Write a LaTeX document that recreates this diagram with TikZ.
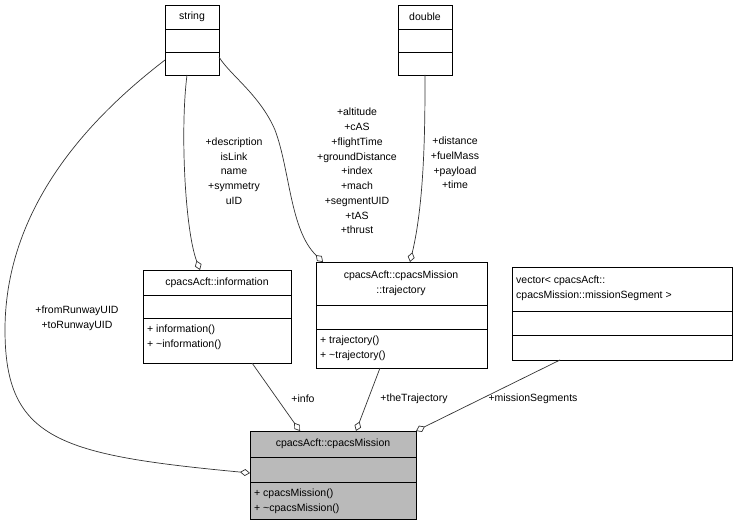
\documentclass[tikz,border=0pt]{standalone}
\usepackage{fontspec}
\setmainfont{Liberation Sans}
\usetikzlibrary{arrows.meta}
\begin{document}
\begin{tikzpicture}[x=1pt,y=-1pt,font=\fontsize{10.5}{14.75}\selectfont,
  box/.style={draw=black,line width=0.7pt},
  lbl/.style={align=center,inner sep=0pt},
  tx/.style={anchor=west,inner sep=0pt},
  ed/.style={draw=black!80,line width=0.7pt,{Diamond[open,length=10pt,width=7pt,fill=white]}-}]
\useasboundingbox (0,0) rectangle (735,529);
% string
\draw[box,fill=white] (165,5) rectangle (219,75);
\draw[box] (165,29)--(219,29) (165,52)--(219,52);
\node[lbl] (s) at (192,17) {string};
\coordinate (sL) at (165,60); \coordinate (sB) at (187,75); \coordinate (sR) at (219,57);
% double
\draw[box,fill=white] (398,5) rectangle (452,75);
\draw[box] (398,29)--(452,29) (398,52)--(452,52);
\node[lbl] (d) at (425,17) {double};
\coordinate (dB) at (425,75);
% information
\draw[box,fill=white] (143,270) rectangle (291,363);
\draw[box] (143,295)--(291,295) (143,318)--(291,318);
\node[lbl] (i) at (217,283) {cpacsAcft::information};
\node[tx] at (147,330) {+ information()};
\node[tx] at (147,345) {+ \textasciitilde information()};
\coordinate (iT) at (200,270); \coordinate (iB) at (252,363);
% trajectory
\draw[box,fill=white] (316,262) rectangle (487,368);
\draw[box] (316,305)--(487,305) (316,329)--(487,329);
\node[lbl] (t) at (401,283) {cpacsAcft::cpacsMission\\::trajectory};
\node[tx] at (320,341) {+ trajectory()};
\node[tx] at (320,356) {+ \textasciitilde trajectory()};
\coordinate (tT1) at (323,262); \coordinate (tT2) at (410,262); \coordinate (tB) at (380,368);
% vector
\draw[box,fill=white] (512,267) rectangle (732,360);
\draw[box] (512,311)--(732,311) (512,335)--(732,335);
\node[tx] at (516,281) {vector< cpacsAcft::};
\node[tx] at (516,296) {cpacsMission::missionSegment >};
\coordinate (vB) at (560,360);
% cpacsMission
\draw[box,fill=black!27] (250,431) rectangle (416,519);
\draw[box] (250,457)--(416,457) (250,482)--(416,482);
\node[lbl] (m) at (333,444) {cpacsAcft::cpacsMission};
\node[tx] at (254,494) {+ cpacsMission()};
\node[tx] at (254,509) {+ \textasciitilde cpacsMission()};
\coordinate (mL) at (250,473); \coordinate (mT1) at (300,431); \coordinate (mT2) at (356,431); \coordinate (mR) at (416,431);
% edges
\draw[ed] (mL) .. controls (60,455) and (5,440) .. (5,330) .. controls (5,200) and (100,110) .. (sL);
\draw[ed] (iT) .. controls (185,230) and (180,130) .. (sB);
\draw[ed] (tT1) .. controls (290,230) and (290,170) .. (275,130) .. controls (260,95) and (230,75) .. (sR);
\draw[ed] (tT2) .. controls (425,200) and (425,120) .. (dB);
\draw[ed] (mT1) -- (iB);
\draw[ed] (mT2) -- (tB);
\draw[ed] (mR) -- (vB);
% labels
\node[lbl] at (77,318) {+fromRunwayUID\\+toRunwayUID};
\node[lbl] at (234,171) {+description\\isLink\\name\\+symmetry\\uID};
\node[lbl] at (357,171) {+altitude\\+cAS\\+flightTime\\+groundDistance\\+index\\+mach\\+segmentUID\\+tAS\\+thrust};
\node[lbl] at (455,163) {+distance\\+fuelMass\\+payload\\+time};
\node[lbl] at (303,399) {+info};
\node[lbl] at (414,399) {+theTrajectory};
\node[lbl] at (533,399) {+missionSegments};
\end{tikzpicture}
\end{document}
